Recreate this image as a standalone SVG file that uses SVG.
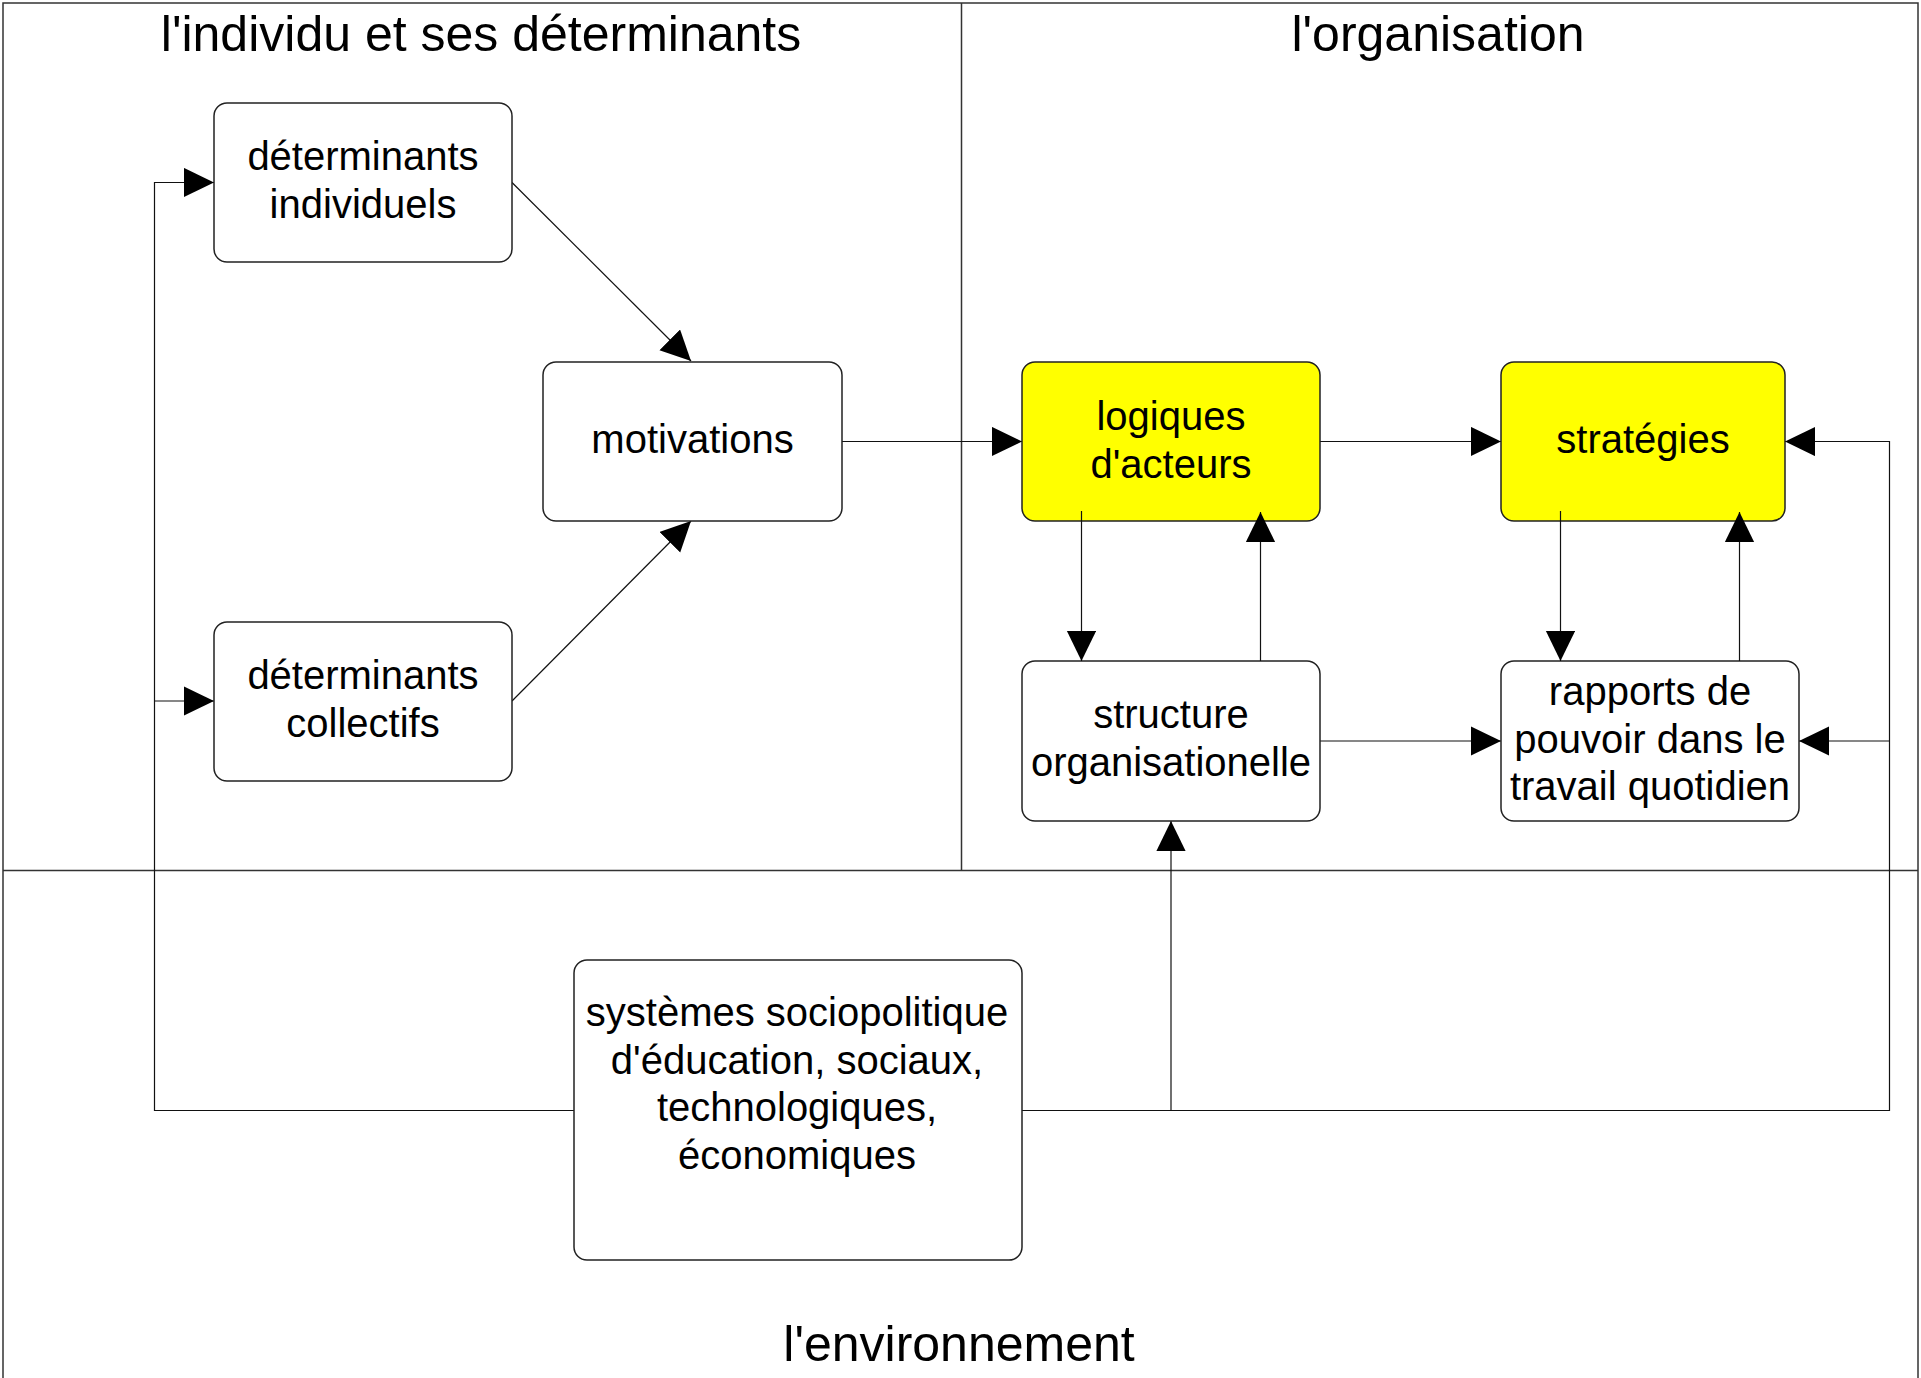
<svg xmlns="http://www.w3.org/2000/svg" width="1921" height="1378" viewBox="0 0 1921 1378">
  <style>
    .frame { fill: none; stroke: #333; stroke-width: 1.5; }
    .box { fill: #ffffff; stroke: #222; stroke-width: 1.5; }
    .hl { fill: #ffff00; stroke: #222; stroke-width: 1.5; }
    .title { font-family: "Liberation Sans", Arial, sans-serif; font-size: 50px; fill: #000; text-anchor: middle; }
    .lbl { font-family: "Liberation Sans", Arial, sans-serif; font-size: 40px; fill: #000; text-anchor: middle; }
    .con { fill: none; stroke: #111; stroke-width: 1.2; }
    .arr { marker-end: url(#ah); }
  </style>
  <defs>
    <marker id="ah" markerUnits="userSpaceOnUse" markerWidth="30" markerHeight="30" refX="30" refY="14.6" orient="auto">
      <path d="M0,0 L30,14.6 L0,29.2 Z" fill="#000"/>
    </marker>
  </defs>
  <rect width="1921" height="1378" fill="#ffffff"/>

  <g id="regions">
    <rect class="frame" x="3" y="3" width="1915" height="1400"/>
    <line class="frame" x1="961.5" y1="3" x2="961.5" y2="870"/>
    <line class="frame" x1="3" y1="870.5" x2="1918" y2="870.5"/>
    <text class="title" x="481" y="51">l'individu et ses déterminants</text>
    <text class="title" x="1438" y="51">l'organisation</text>
    <text class="title" x="959" y="1361">l'environnement</text>
  </g>

  <g id="connectors">
    <path class="con arr" d="M574,1110.5 H154.5 V182.5 H214"/>
    <path class="con arr" d="M154.5,701 H214"/>
    <path class="con arr" d="M1022,1110.5 H1889.5 V441.5 H1785"/>
    <path class="con arr" d="M1889.5,741 H1799"/>
    <path class="con arr" d="M1171,1110.5 V821"/>
    <path class="con arr" d="M512,182.5 L691,361"/>
    <path class="con arr" d="M512,701 L691,521"/>
    <path class="con arr" d="M842,441.5 H1022"/>
    <path class="con arr" d="M1320,441.5 H1501"/>
    <path class="con arr" d="M1320,741 H1501"/>
  </g>

  <g id="n-det-ind">
    <rect class="box" x="214" y="103" width="298" height="159" rx="13"/>
    <text class="lbl" x="363" y="170">déterminants</text>
    <text class="lbl" x="363" y="217.5">individuels</text>
  </g>
  <g id="n-motivations">
    <rect class="box" x="543" y="362" width="299" height="159" rx="13"/>
    <text class="lbl" x="692.5" y="453">motivations</text>
  </g>
  <g id="n-det-col">
    <rect class="box" x="214" y="622" width="298" height="159" rx="13"/>
    <text class="lbl" x="363" y="689">déterminants</text>
    <text class="lbl" x="363" y="736.5">collectifs</text>
  </g>
  <g id="n-logiques">
    <rect class="hl" x="1022" y="362" width="298" height="159" rx="13"/>
    <text class="lbl" x="1171" y="430">logiques</text>
    <text class="lbl" x="1171" y="477.5">d'acteurs</text>
  </g>
  <g id="n-strategies">
    <rect class="hl" x="1501" y="362" width="284" height="159" rx="13"/>
    <text class="lbl" x="1643" y="453">stratégies</text>
  </g>
  <g id="n-structure">
    <rect class="box" x="1022" y="661" width="298" height="160" rx="13"/>
    <text class="lbl" x="1171" y="728">structure</text>
    <text class="lbl" x="1171" y="775.5">organisationelle</text>
  </g>
  <g id="n-rapports">
    <rect class="box" x="1501" y="661" width="298" height="160" rx="13"/>
    <text class="lbl" x="1650" y="705">rapports de</text>
    <text class="lbl" x="1650" y="752.5">pouvoir dans le</text>
    <text class="lbl" x="1650" y="800">travail quotidien</text>
  </g>
  <g id="n-systemes">
    <rect class="box" x="574" y="960" width="448" height="300" rx="13"/>
    <text class="lbl" x="797" y="1026">systèmes sociopolitique</text>
    <text class="lbl" x="797" y="1073.5">d'éducation, sociaux,</text>
    <text class="lbl" x="797" y="1121">technologiques,</text>
    <text class="lbl" x="797" y="1168.5">économiques</text>
  </g>

  <g id="inner-connectors">
    <path class="con arr" d="M1081.5,511 V661"/>
    <path class="con arr" d="M1260.5,661 V512"/>
    <path class="con arr" d="M1560.5,511 V661"/>
    <path class="con arr" d="M1739.5,661 V512"/>
  </g>
</svg>
